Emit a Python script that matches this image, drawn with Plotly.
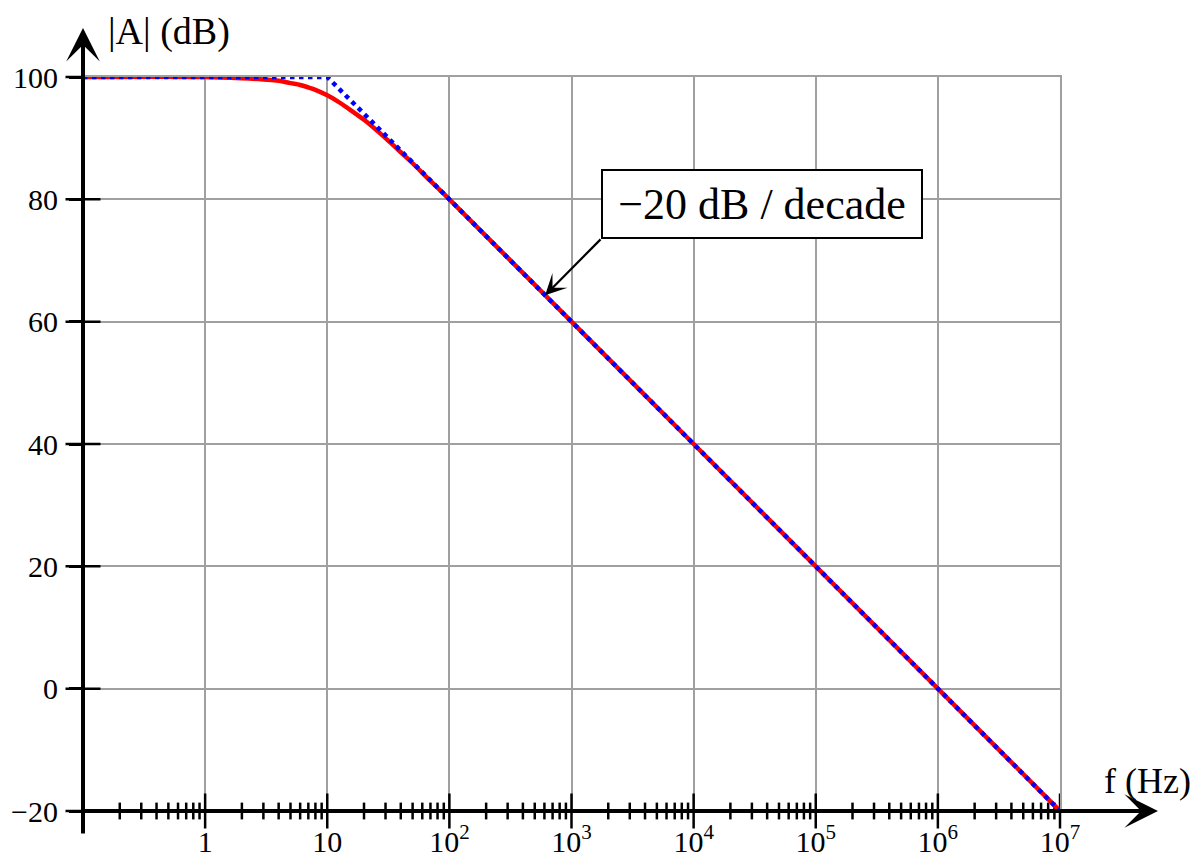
import math
import plotly.graph_objects as go

# ---------------- data ----------------
freq_red = [0.1, 1, 2, 3, 4, 5, 6, 7, 8, 10, 12, 15, 20, 25, 30, 40, 50, 70, 100,
            1e3, 1e4, 1e5, 1e6, 1e7]
gain_red = [100.0, 100.0, 99.8, 99.6, 99.4, 99.0, 98.7, 98.3, 97.9, 97.0, 96.1, 94.8,
            93.0, 91.4, 90.0, 87.7, 85.9, 83.0, 80.0, 60.0, 40.0, 20.0, 0.0, -20.0]

freq_asym = [0.1, 10, 1e7]
gain_asym = [100, 100, -20]

x_tick_vals = [1, 10, 100, 1e3, 1e4, 1e5, 1e6, 1e7]
x_tick_text = ["1", "10", "10<sup>2</sup>", "10<sup>3</sup>", "10<sup>4</sup>",
               "10<sup>5</sup>", "10<sup>6</sup>", "10<sup>7</sup>"]
x_minor_vals = [m * 10.0 ** k for k in range(-1, 7) for m in range(2, 10)]

y_tick_vals = [-20, 0, 20, 40, 60, 80, 100]
y_tick_text = ["\u221220", "0", "20", "40", "60", "80", "100"]

slope_label = "\u221220 dB / decade"
slope_point_f = 608
slope_point_db = 64.3
label_center_f = 10 ** 4.56
label_center_db = 79.2
arrow_tail_f = 10 ** 3.25
arrow_tail_db = 73.7

x_title = "f (Hz)"
y_title = "|A| (dB)"

x_min, x_max = 0.1, 1e7
y_min, y_max = -20, 100

# ---------------- figure ----------------
FONT = "Liberation Serif"
fig = go.Figure()

# axis tick marks crossing the axes
fig.add_trace(go.Scatter(
    x=x_minor_vals, y=[y_min] * len(x_minor_vals), mode="markers",
    marker=dict(symbol="line-ns", size=12, line=dict(color="black", width=2.5)),
    cliponaxis=False, hoverinfo="skip", showlegend=False))
fig.add_trace(go.Scatter(
    x=x_tick_vals, y=[y_min] * len(x_tick_vals), mode="markers",
    marker=dict(symbol="line-ns", size=25, line=dict(color="black", width=2.5)),
    cliponaxis=False, hoverinfo="skip", showlegend=False))
fig.add_trace(go.Scatter(
    x=[x_min] * len(y_tick_vals), y=y_tick_vals, mode="markers",
    marker=dict(symbol="line-ew", size=25, line=dict(color="black", width=2.5)),
    cliponaxis=False, hoverinfo="skip", showlegend=False))

# curves
fig.add_trace(go.Scatter(
    x=freq_red, y=gain_red, mode="lines", line=dict(color="#ff0000", width=4.5),
    line_shape="spline", cliponaxis=False, showlegend=False))
fig.add_trace(go.Scatter(
    x=freq_asym, y=gain_asym, mode="lines",
    line=dict(color="#0000ff", width=4.5, dash="dot"),
    cliponaxis=False, showlegend=False))

L, R, T, B = 83, 142, 77, 41
W, H = 1202, 852
pw, ph = W - L - R, H - T - B


def px_to_paper_x(px):
    return (px - L) / pw


def px_to_paper_y(py):
    return (H - B - py) / ph


annotations = [
    # y axis with arrow
    dict(xref="paper", yref="paper", x=0, y=px_to_paper_y(28), text="",
         showarrow=True, ax=0, ay=835 - 28, arrowhead=3, arrowsize=1.4,
         arrowwidth=4, arrowcolor="black"),
    # x axis with arrow
    dict(xref="paper", yref="paper", x=px_to_paper_x(1158), y=0, text="",
         showarrow=True, ax=-(1158 - L), ay=0, arrowhead=3, arrowsize=1.4,
         arrowwidth=4, arrowcolor="black"),
    # slope arrow
    dict(xref="x", yref="y", x=math.log10(slope_point_f), y=slope_point_db,
         axref="x", ayref="y", ax=math.log10(arrow_tail_f), ay=arrow_tail_db,
         text="", showarrow=True, arrowhead=3, arrowsize=1.6, arrowwidth=2.2,
         arrowcolor="black"),
    # slope label box
    dict(xref="x", yref="y", x=math.log10(label_center_f), y=label_center_db,
         text=slope_label, showarrow=False,
         font=dict(family=FONT, size=44, color="black"),
         bordercolor="black", borderwidth=2, bgcolor="white",
         width=316, height=64, borderpad=1),
    # axis titles
    dict(xref="paper", yref="paper", x=px_to_paper_x(106), y=px_to_paper_y(31),
         xanchor="left", yanchor="middle", text=y_title, showarrow=False,
         font=dict(family=FONT, size=38, color="black")),
    dict(xref="paper", yref="paper", x=px_to_paper_x(1102), y=px_to_paper_y(781),
         xanchor="left", yanchor="middle", text=x_title, showarrow=False,
         font=dict(family=FONT, size=36, color="black")),
]

fig.update_layout(
    width=W, height=H,
    margin=dict(l=L, r=R, t=T, b=B, pad=0),
    paper_bgcolor="white", plot_bgcolor="white",
    showlegend=False,
    annotations=annotations,
    font=dict(family=FONT, color="black"),
)
fig.update_xaxes(
    type="log", range=[math.log10(x_min), math.log10(x_max)],
    tickvals=x_tick_vals, ticktext=x_tick_text,
    tickfont=dict(family=FONT, size=30, color="black"),
    ticks="", ticklabelstandoff=3,
    showgrid=True, gridcolor="#a0a0a0", gridwidth=2,
    showline=True, mirror=True, linecolor="#a0a0a0", linewidth=2,
    zeroline=False, automargin=False, fixedrange=True,
)
fig.update_yaxes(
    range=[y_min, y_max],
    tickvals=y_tick_vals, ticktext=y_tick_text,
    tickfont=dict(family=FONT, size=30, color="black"),
    ticks="outside", ticklen=12, tickwidth=2.5, tickcolor="black",
    ticklabelstandoff=5,
    showgrid=True, gridcolor="#a0a0a0", gridwidth=2,
    showline=True, mirror=True, linecolor="#a0a0a0", linewidth=2,
    zeroline=False, automargin=False, fixedrange=True,
)

fig.write_html("out.html", config={"displayModeBar": False},
               post_script="document.body.style.margin='0';")
